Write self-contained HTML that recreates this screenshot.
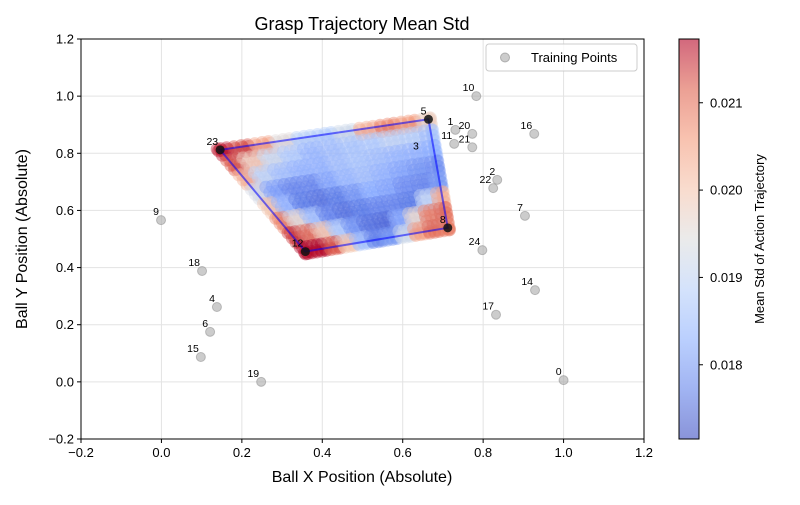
<!DOCTYPE html>
<html><head><meta charset="utf-8"><style>
html,body{margin:0;padding:0;background:#fff;}
svg text{font-family:"Liberation Sans","DejaVu Sans",sans-serif;}
</style></head><body>
<svg id="chart" width="800" height="500" xmlns="http://www.w3.org/2000/svg">
<rect x="0" y="0" width="800" height="500" fill="#fff"/>
<g id="grid"></g>
<g id="axes"></g>
<g id="train"></g>
<g id="cloud"></g>
<g id="poly"></g>
<g id="corners"></g>
<g id="labels"></g>
<rect x="81" y="39" width="563" height="400" fill="none" stroke="#000" stroke-width="1"/>
<text x="362" y="30" font-size="18" text-anchor="middle">Grasp Trajectory Mean Std</text>
<text x="362" y="482" font-size="16" text-anchor="middle">Ball X Position (Absolute)</text>
<text x="0" y="0" font-size="16" text-anchor="middle" transform="translate(27,239) rotate(-90)">Ball Y Position (Absolute)</text>
<g>
<rect x="486" y="44" width="151" height="27" rx="3" fill="#fff" fill-opacity="0.8" stroke="#ccc"/>
<circle cx="505" cy="57.5" r="4.5" fill="#aaa" fill-opacity="0.6" stroke="#888" stroke-opacity="0.6"/>
<text x="531" y="62" font-size="13">Training Points</text>
</g>
<defs><linearGradient id="cbg" x1="0" y1="1" x2="0" y2="0">
<stop offset="0" stop-color="#3b4cc0"/><stop offset="0.125" stop-color="#6282ea"/><stop offset="0.25" stop-color="#8db0fe"/><stop offset="0.375" stop-color="#b8d0f9"/><stop offset="0.5" stop-color="#dddddd"/><stop offset="0.625" stop-color="#f5c4ad"/><stop offset="0.75" stop-color="#f49a7b"/><stop offset="0.875" stop-color="#de604d"/><stop offset="1" stop-color="#b40426"/>
</linearGradient></defs>
<rect x="679" y="39" width="20" height="400" fill="url(#cbg)" fill-opacity="0.6" stroke="#000" stroke-width="1"/>
<g id="cbticks"></g>
<text x="0" y="0" font-size="13" text-anchor="middle" transform="translate(764,239) rotate(-90)">Mean Std of Action Trajectory</text>
</svg>
<script>
const xTicks=[-0.2,0,0.2,0.4,0.6,0.8,1.0,1.2];
const yTicks=[-0.2,0,0.2,0.4,0.6,0.8,1.0,1.2];
const cbTicks=[0.018,0.019,0.020,0.021];
const trainIds=[0,1,2,4,6,7,9,10,11,14,15,16,17,18,19,20,21,22,24];
const trainX=[1.0,0.731,0.835,0.138,0.121,0.904,-0.001,0.783,0.728,0.929,0.098,0.927,0.832,0.101,0.248,0.773,0.773,0.825,0.798];
const trainY=[0.006,0.882,0.707,0.262,0.175,0.581,0.566,1.0,0.833,0.321,0.087,0.868,0.235,0.388,0.0,0.868,0.821,0.678,0.461];
const cornerIds=[23,5,8,12];
const cornerX=[0.146,0.664,0.712,0.358];
const cornerY=[0.812,0.919,0.539,0.456];
const hiddenId=3, hiddenX=0.645, hiddenY=0.795;
// std values (x1e-4) per cell inside the hull: rows top->bottom, cols left->right
const stdRows=[
[216,213,205,195,189,188,192,203,208,206,198],
[212,200,192,188,185,186,187,188,190,189,186],
[203,190,186,184,184,186,187,186,185,184,183],
[193,181,178,178,182,185,186,184,182,180,179],
[200,184,177,176,177,180,183,182,179,178,180],
[208,196,186,178,176,177,178,178,177,190,203],
[214,210,200,188,180,176,175,182,196,208,210],
[217,217,212,200,186,178,180,192,205,210,209]];
const vmin=0.01715, vmax=0.02173;

const NS="http://www.w3.org/2000/svg";
const X0=81,X1=644,Y0=439,Y1=39;
const sx=v=>X0+(v+0.2)/1.4*(X1-X0);
const sy=v=>Y0-(v+0.2)/1.4*(Y0-Y1);
const cy=v=>439-(v-vmin)/(vmax-vmin)*400;
const fmt=t=>t.toFixed(1).replace('-','\u2212');
function mk(tag,attrs,parent){const e=document.createElementNS(NS,tag);for(const k in attrs)e.setAttribute(k,attrs[k]);parent.appendChild(e);return e;}
const grid=document.getElementById('grid'),axes=document.getElementById('axes');
xTicks.forEach(t=>{
 const g=mk('line',{x1:sx(t),x2:sx(t),y1:Y1,y2:Y0,stroke:'#e3e3e3','stroke-width':1},grid);
 
 
 const tk=mk('line',{x1:sx(t),x2:sx(t),y1:Y0,y2:Y0+4,stroke:'#000'},axes);
 
 
 const tx=mk('text',{x:sx(t),y:Y0+18,'font-size':13,'text-anchor':'middle'},axes);
 tx.textContent=fmt(t);
 
 
});
yTicks.forEach(t=>{
 const g=mk('line',{x1:X0,x2:X1,y1:sy(t),y2:sy(t),stroke:'#e3e3e3','stroke-width':1},grid);
 
 
 const tk=mk('line',{x1:X0-4,x2:X0,y1:sy(t),y2:sy(t),stroke:'#000'},axes);
 
 
 const tx=mk('text',{x:X0-7,y:sy(t)+4.5,'font-size':13,'text-anchor':'end'},axes);
 tx.textContent=fmt(t);
 
 
});
const cbt=document.getElementById('cbticks');
cbTicks.forEach(t=>{
 const tk=mk('line',{x1:699,x2:703,y1:cy(t),y2:cy(t),stroke:'#000'},cbt);
 
 
 const tx=mk('text',{x:710,y:cy(t)+4.5,'font-size':13},cbt);
 tx.textContent=t.toFixed(3);
 
 
});
const train=document.getElementById('train'),labels=document.getElementById('labels');
function label(id,x,y){
 const t=mk('text',{x:sx(x)-2,y:sy(y)-5,'font-size':10.5,'text-anchor':'end'},labels);
 t.textContent=String(id);
 
 
}
trainIds.forEach((id,i)=>{
 const c=mk('circle',{cx:sx(trainX[i]),cy:sy(trainY[i]),r:4.5,fill:'#aaa','fill-opacity':0.6,stroke:'#888','stroke-opacity':0.5},train);
 
 
 label(id,trainX[i],trainY[i]);
});
label(hiddenId,hiddenX,hiddenY);
const cm=[[59,76,192],[98,130,234],[141,176,254],[184,208,249],[221,221,221],[245,196,173],[244,154,123],[222,96,77],[180,4,38]];
function color(v){let t=(v-vmin)/(vmax-vmin);t=Math.max(0,Math.min(1,t))*8;const i=Math.min(7,Math.floor(t)),f=t-i;
 const c=cm[i].map((a,k)=>Math.round(a+(cm[i+1][k]-a)*f));return 'rgb('+c.join(',')+')';}
const cloud=document.getElementById('cloud');
const TL=[sx(cornerX[0]),sy(cornerY[0])],TR=[sx(cornerX[1]),sy(cornerY[1])],BR=[sx(cornerX[2]),sy(cornerY[2])],BL=[sx(cornerX[3]),sy(cornerY[3])];
function bil(u,v){return [(1-u)*(1-v)*TL[0]+u*(1-v)*TR[0]+u*v*BR[0]+(1-u)*v*BL[0],(1-u)*(1-v)*TL[1]+u*(1-v)*TR[1]+u*v*BR[1]+(1-u)*v*BL[1]];}
const nr=stdRows.length,nc=stdRows[0].length;
const du=1/(nc-1), dv=1/(nr-1);
const offs=[-0.3,0.05,0.35];
stdRows.forEach((row,r)=>{row.forEach((val,c)=>{
 const col=color(val*1e-4);
 offs.forEach((ou,a)=>{offs.forEach((ov,b)=>{
  const u=Math.max(-0.01,Math.min(1.01,c*du+ou*du)), v=Math.max(-0.01,Math.min(1.02,r*dv+offs[(a+b)%3]*dv));
  const p=bil(u,v);
  const e=mk('circle',{cx:p[0],cy:p[1],r:6.5,fill:col,'fill-opacity':0.42},cloud);
  
  
 });});
});});
const poly=document.getElementById('poly');
const pts=cornerX.map((x,i)=>sx(x)+','+sy(cornerY[i])).join(' ');
const pg=mk('polygon',{points:pts,fill:'#0000ff','fill-opacity':0.03,stroke:'#0000ff','stroke-opacity':0.55,'stroke-width':2},poly);


const corners=document.getElementById('corners');
cornerIds.forEach((id,i)=>{
 const c=mk('circle',{cx:sx(cornerX[i]),cy:sy(cornerY[i]),r:4.5,fill:'#111','fill-opacity':0.85},corners);
 
 
 label(id,cornerX[i],cornerY[i]);
});
</script>
</body></html>
